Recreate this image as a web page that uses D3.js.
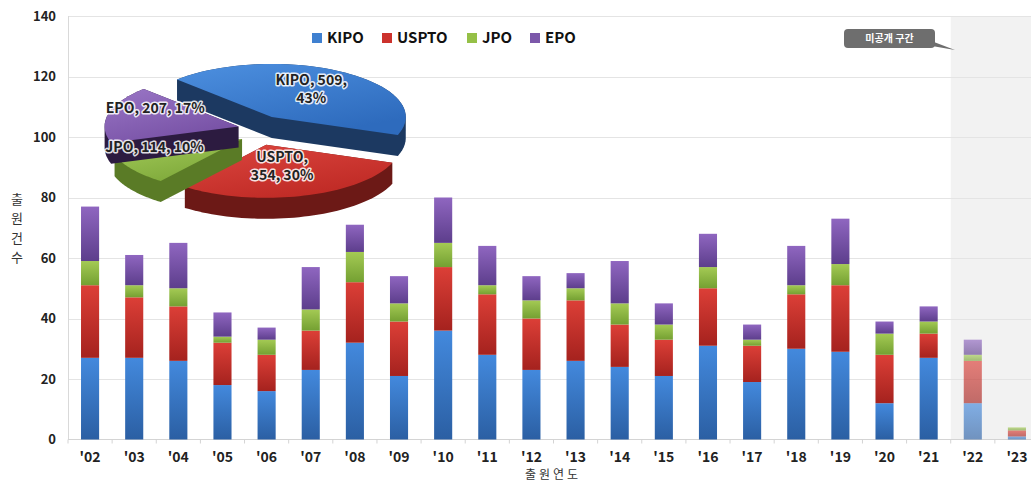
<!DOCTYPE html>
<html>
<head>
<meta charset="utf-8">
<script src="https://cdn.jsdelivr.net/npm/d3@7"></script>
<style>
	body { margin: 0; background: #fff; }
	text { font-family: "Noto Sans CJK KR", "Noto Sans", sans-serif; }
</style>
</head>
<body>
<div id="chart"></div>
<script>
// values
const years = ["'02", "'03", "'04", "'05", "'06", "'07", "'08", "'09", "'10", "'11", "'12",
	"'13", "'14", "'15", "'16", "'17", "'18", "'19", "'20", "'21", "'22", "'23"];
const kipo = [27, 27, 26, 18, 16, 23, 32, 21, 36, 28, 23, 26, 24, 21, 31, 19, 30, 29, 12, 27, 12, 1];
const uspto = [24, 20, 18, 14, 12, 13, 20, 18, 21, 20, 17, 20, 14, 12, 19, 12, 18, 22, 16, 8, 14, 2];
const jpo = [8, 4, 6, 2, 5, 7, 10, 6, 8, 3, 6, 4, 7, 5, 7, 2, 3, 7, 7, 4, 2, 1];
const epo = [18, 10, 15, 8, 4, 14, 9, 9, 15, 13, 8, 5, 14, 7, 11, 5, 13, 15, 4, 5, 5, 0];
const seriesNames = ["KIPO", "USPTO", "JPO", "EPO"];
const pieValues = [509, 354, 114, 207];
const yTicks = [0, 20, 40, 60, 80, 100, 120, 140];
const hiddenYears = ["'22", "'23"];
const yTitle = "출원건수";
const xTitle = "출원연도";
const calloutText = "미공개 구간";

const W = 1031, H = 483;
const svg = d3.select("#chart").append("svg").attr("width", W).attr("height", H);
const defs = svg.append("defs");

const x = d3.scaleBand().domain(years).range([68, 1039]).paddingInner(0.59).paddingOuter(0.295);
const y = d3.scaleLinear().domain([0, 140]).range([439.5, 16]);

// bar gradients
const barTop = ["#4389dd", "#dc3f37", "#a4ca54", "#8f66c0"];
const barBot = ["#2b5fa3", "#a5221e", "#74a032", "#5d3e8c"];
seriesNames.forEach((s, i) => {
	const g = defs.append("linearGradient").attr("id", "bar" + i)
		.attr("x1", 0).attr("y1", 0).attr("x2", 0).attr("y2", 1);
	g.append("stop").attr("offset", "0%").attr("stop-color", barTop[i]);
	g.append("stop").attr("offset", "100%").attr("stop-color", barBot[i]);
});

// shaded "unpublished" region
const step = x.step();
const shadeX = x(hiddenYears[0]) - step * x.paddingInner() / 2;
svg.append("rect")
	.attr("x", shadeX).attr("y", y(140))
	.attr("width", W - shadeX).attr("height", y(0) - y(140))
	.attr("fill", "#f2f2f2");

// grid
svg.append("g").selectAll("line").data(yTicks.slice(1)).join("line")
	.attr("x1", 68).attr("x2", W)
	.attr("y1", d => Math.round(y(d)) + 0.5).attr("y2", d => Math.round(y(d)) + 0.5)
	.attr("stroke", "#e4e4e4");

svg.append("line").attr("x1", 68.5).attr("x2", 68.5).attr("y1", y(140)).attr("y2", y(0))
	.attr("stroke", "#d9d9d9");
svg.append("line").attr("x1", 68).attr("x2", W).attr("y1", y(0)).attr("y2", y(0))
	.attr("stroke", "#d4d4d4");
svg.append("g").selectAll("line").data(years).join("line")
	.attr("x1", d => x(d) - step * x.paddingInner() / 2)
	.attr("x2", d => x(d) - step * x.paddingInner() / 2)
	.attr("y1", y(0)).attr("y2", y(0) + 4)
	.attr("stroke", "#d4d4d4");

// y labels
svg.append("g").selectAll("text").data(yTicks).join("text")
	.attr("x", 56).attr("y", d => y(d)).attr("dy", "0.35em")
	.attr("text-anchor", "end")
	.style("font-size", "13px").style("font-weight", "bold").attr("fill", "#222")
	.text(d => d);

// x labels
svg.append("g").selectAll("text").data(years).join("text")
	.attr("x", d => x(d) + x.bandwidth() / 2).attr("y", 457).attr("dy", "0.35em")
	.attr("text-anchor", "middle")
	.style("font-size", "14px").style("font-weight", "bold").attr("fill", "#222")
	.text(d => d);

// axis titles
svg.append("text").attr("x", 553).attr("y", 475).attr("dy", "0.35em")
	.attr("text-anchor", "middle")
	.style("font-size", "12px").style("letter-spacing", "3px").attr("fill", "#333")
	.text(xTitle);
svg.append("g").selectAll("text").data(yTitle.split("")).join("text")
	.attr("x", 17).attr("y", (d, i) => 199 + i * 19.5).attr("dy", "0.35em")
	.attr("text-anchor", "middle")
	.style("font-size", "13px").attr("fill", "#333")
	.text(d => d);

// stacked bars
const rows = years.map((yr, i) => ({ year: yr, KIPO: kipo[i], USPTO: uspto[i], JPO: jpo[i], EPO: epo[i] }));
const stacked = d3.stack().keys(seriesNames)(rows);
svg.append("g").selectAll("g").data(stacked).join("g")
	.attr("fill", (d, i) => "url(#bar" + i + ")")
	.selectAll("rect").data(d => d).join("rect")
	.attr("x", d => x(d.data.year))
	.attr("width", x.bandwidth())
	.attr("y", d => y(d[1]))
	.attr("height", d => y(d[0]) - y(d[1]))
	.attr("opacity", d => hiddenYears.includes(d.data.year) ? 0.65 : 1);

// callout
svg.append("polygon")
	.attr("points", [[926, 39], [955, 50], [932, 46]].join(" "))
	.attr("fill", "#6e6e6e");
svg.append("rect").attr("x", 844).attr("y", 29).attr("width", 91).attr("height", 19).attr("rx", 4)
	.attr("fill", "#6e6e6e");
svg.append("text").attr("x", 889.5).attr("y", 38.5).attr("dy", "0.35em")
	.attr("text-anchor", "middle")
	.style("font-size", "10px").style("font-weight", "bold").attr("fill", "#fff")
	.text(calloutText);

// legend
const legendX = [312, 382, 467, 530];
const legendCol = ["#3f80d0", "#cc322d", "#95c047", "#7c58aa"];
const legend = svg.append("g").selectAll("g").data(seriesNames).join("g")
	.attr("transform", (d, i) => "translate(" + legendX[i] + ",38)");
legend.append("rect").attr("x", 0).attr("y", -5).attr("width", 10).attr("height", 10)
	.attr("fill", (d, i) => legendCol[i]);
legend.append("text").attr("x", 15).attr("dy", "0.35em")
	.style("font-size", "15px").style("font-weight", "bold").attr("fill", "#111")
	.text(d => d);

// exploded 3D pie
const pieCx = 260, pieCy = 130, pieRx = 134, pieRy = 53, pieDepth = 21, pieExplode = 22;
const pieTopA = ["#4d90e0", "#dc463f", "#a4cc5a", "#9a76c6"];
const pieTopB = ["#2e6bbd", "#bf2a25", "#7ea83a", "#7650a4"];
const pieSide = ["#1c3961", "#6c1916", "#5a7b26", "#2c1b40"];
const total = d3.sum(pieValues);
const arcs = d3.pie().sort(null)
	.startAngle(-45 * Math.PI / 180).endAngle(315 * Math.PI / 180)(pieValues);

seriesNames.forEach((s, i) => {
	const g = defs.append("linearGradient").attr("id", "pie" + i)
		.attr("x1", 0).attr("y1", 0).attr("x2", 0.6).attr("y2", 1);
	g.append("stop").attr("offset", "0%").attr("stop-color", pieTopA[i]);
	g.append("stop").attr("offset", "100%").attr("stop-color", pieTopB[i]);
});

function slicePts(d, dy) {
	const mid = (d.startAngle + d.endAngle) / 2;
	const ox = pieExplode * Math.sin(mid), oy = -pieExplode * 0.7 * Math.cos(mid);
	const pts = [[pieCx + ox, pieCy + oy + dy]];
	const n = 48;
	for (let k = 0; k <= n; k++) {
		const a = d.startAngle + (d.endAngle - d.startAngle) * k / n;
		pts.push([pieCx + ox + pieRx * Math.sin(a), pieCy + oy + dy - pieRy * Math.cos(a)]);
	}
	return pts;
}

// back slices first
const order = arcs.map((d, i) => i)
	.sort((a, b) => Math.cos((arcs[b].startAngle + arcs[b].endAngle) / 2) - Math.cos((arcs[a].startAngle + arcs[a].endAngle) / 2))
	.reverse();
const pieG = svg.append("g");
order.forEach(i => {
	const d = arcs[i];
	const top = slicePts(d, 0);
	const hull = d3.polygonHull(top.concat(slicePts(d, pieDepth)));
	pieG.append("path").attr("d", d3.line()(hull) + "Z").attr("fill", pieSide[i]);
	pieG.append("path").attr("d", d3.line()(top) + "Z").attr("fill", "url(#pie" + i + ")");
});

// pie labels
const labelR = [0.55, 0.42, 0.8, 0.64];
const labelDy = [-3, 0, -16, -10];
arcs.forEach((d, i) => {
	const mid = (d.startAngle + d.endAngle) / 2;
	const lx = pieCx + pieExplode * Math.sin(mid) + labelR[i] * pieRx * Math.sin(mid);
	const ly = pieCy - pieExplode * 0.7 * Math.cos(mid) - labelR[i] * pieRy * Math.cos(mid) + labelDy[i];
	const pct = Math.round(pieValues[i] / total * 100) + "%";
	let lines;
	if (i === 0) lines = [seriesNames[i] + ", " + pieValues[i] + ",", pct];
	else if (i === 1) lines = [seriesNames[i] + ",", pieValues[i] + ", " + pct];
	else lines = [seriesNames[i] + ", " + pieValues[i] + ", " + pct];
	const t = svg.append("text")
		.attr("text-anchor", "middle")
		.style("font-size", "14px").style("font-weight", "bold")
		.attr("fill", "#222").attr("stroke", "rgba(255,255,255,0.85)").attr("stroke-width", 3)
		.attr("paint-order", "stroke").attr("stroke-linejoin", "round");
	lines.forEach((ln, k) => {
		t.append("tspan").attr("x", lx).attr("y", ly + (k - (lines.length - 1) / 2) * 18)
			.attr("dy", "0.35em").text(ln);
	});
});
</script>
</body>
</html>
